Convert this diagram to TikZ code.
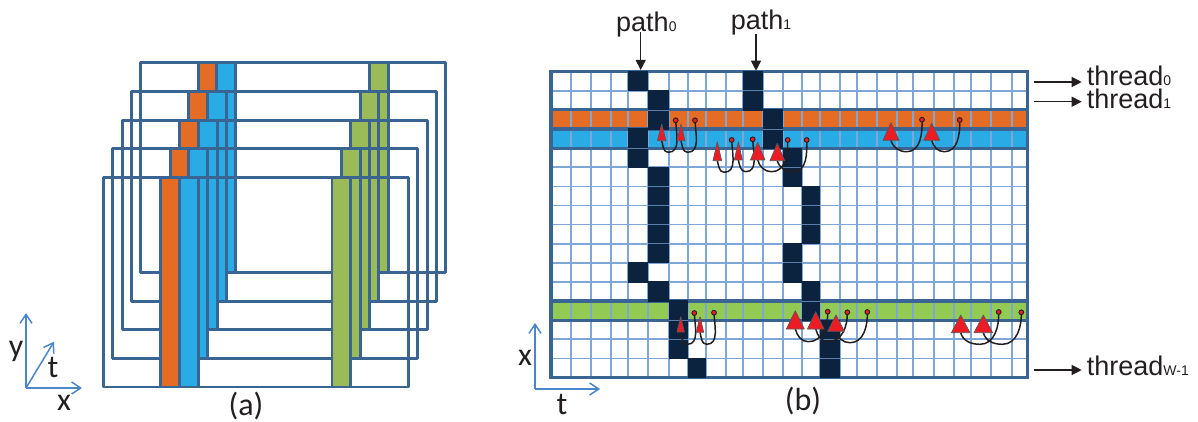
\documentclass[tikz,border=0pt]{standalone}
\usepackage{fontspec}
\setmainfont{Liberation Sans}
\newfontfamily\axisfont{Carlito}
\usetikzlibrary{arrows.meta}
\definecolor{framec}{HTML}{3A6491}
\definecolor{gridc}{HTML}{7EA6D6}
\definecolor{orangec}{HTML}{E46C25}
\definecolor{bluec}{HTML}{29ABE6}
\definecolor{greena}{HTML}{9BBB59}
\definecolor{greenb}{HTML}{92CB53}
\definecolor{darkc}{HTML}{0C233F}
\definecolor{axisc}{HTML}{4A86C8}
\definecolor{redc}{HTML}{ED1C24}
\definecolor{inkc}{HTML}{231F20}
\tikzset{
  x=1pt,y=-1pt,
  layerline/.style={draw=framec,line width=2.9pt,line join=round},
  thickline/.style={draw=framec,line width=3.1pt},
  thinline/.style={draw=gridc,line width=1.7pt},
  axisline/.style={draw=axisc,line width=1.5pt,-{Straight Barb[length=9pt,width=12pt]}},
  blackarrow/.style={draw=inkc,line width=1.2pt,-{Triangle[length=10pt,width=10pt]}},
  label/.style={inner sep=0pt,anchor=base west,text=inkc,font=\fontsize{27}{27}\selectfont},
  axislabel/.style={inner sep=0pt,text=inkc,font=\axisfont\fontsize{32}{32}\selectfont},
  arcline/.style={draw=inkc,line width=1.5pt},
  redtri/.style={fill=redc,draw=inkc!75,line width=0.7pt,line join=round},
  reddot/.style={fill=redc,draw=inkc,line width=0.9pt},
}
\newcommand{\subs}[1]{{\fontsize{14}{14}\selectfont #1}}
\newcommand{\markarc}[8]{%
  \draw[arcline] (#1,#2) to[out=-88,in=0] (#3,#4) to[out=180,in=-75] (#5,#7);
  \fill[redtri] (#5,#6) -- ({#5+#8},#7) -- ({#5-#8},#7) -- cycle;
  \fill[reddot] (#1,#2) circle (2.4pt);
}
\def\colx{{551,570.7,590.7,611,627.7,648.3,668.7,687.7,705.7,725.7,742.7,762.7,782.7,801.7,820,840,856.7,876.7,896.7,913.3,934,954,970.7,990.7,1011.7,1027.7}}
\newcommand{\rowy}[1]{(71.7+19.11*(#1))}
\begin{document}
\begin{tikzpicture}
\useasboundingbox (0,0) rectangle (1198,422);
% ---------- (a) stacked frames
\foreach \i in {4,3,2,1,0}{
  \begin{scope}[shift={(9.38*\i,-28.6*\i)}]
    \draw[layerline] (103.3,177.3) rectangle (408.3,387);
    \filldraw[layerline,fill=orangec] (160.7,177.3) rectangle (179.3,387);
    \filldraw[layerline,fill=bluec] (179.3,177.3) rectangle (198.3,387);
    \filldraw[layerline,fill=greena] (332,177.3) rectangle (350.7,387);
  \end{scope}
}
% axes (a)
\coordinate (ao) at (26,388);
\coordinate (ay) at (26,313);
\coordinate (ax) at (82,388);
\coordinate (at) at (54,341.7);
\draw[axisline] (ao) -- (ay);
\draw[axisline] (ao) -- (ax);
\draw[axisline] (ao) -- (at);
\node[axislabel] (ly) at (16,351) {y};
\node[axislabel] (lt) at (53,367) {t};
\node[axislabel] (lx) at (64,403) {x};
\node[axislabel] (la) at (246,406) {(a)};
% ---------- (b) grid
\fill[white] (551,71.7) rectangle (1027.7,377.5);
\fill[orangec] (551,{\rowy{2}}) rectangle (1027.7,{\rowy{3}});
\fill[bluec] (551,{\rowy{3}}) rectangle (1027.7,{\rowy{4}});
\fill[greenb] (551,{\rowy{12}}) rectangle (1027.7,{\rowy{13}});
\foreach \c in {1,...,24}{
  \pgfmathsetmacro\xa{\colx[\c]}
  \draw[thinline] (\xa,71.7) -- (\xa,377.5);
}
\foreach \r in {1,...,15}{
  \draw[thinline] (551,{\rowy{\r}}) -- (1027.7,{\rowy{\r}});
}
\foreach \r in {2,3,4,12,13}{
  \draw[thickline] (551,{\rowy{\r}}) -- (1027.7,{\rowy{\r}});
}
\draw[thickline] (551,71.7) rectangle (1027.7,377.5);
% dark path cells
\foreach \c/\r in {4/0,5/1,5/2,4/3,4/4,5/5,5/6,5/7,5/8,5/9,4/10,5/11,6/12,6/13,6/14,7/15,
                   10/0,10/1,11/2,11/3,12/4,12/5,13/6,13/7,13/8,12/9,12/10,13/11,13/12,14/13,14/14,14/15}{
  \pgfmathsetmacro\xa{\colx[\c]}
  \pgfmathsetmacro\xb{\colx[\c+1]}
  \fill[darkc] (\xa,{\rowy{\r}-0.6}) rectangle (\xb,{\rowy{\r+1}+0.6});
}
\foreach \c/\r in {5/2,4/4,5/6,5/7,5/8,5/9,6/13,6/14,10/1,11/3,12/5,13/7,13/8,12/10,13/12,14/14,14/15}{
  \pgfmathsetmacro\xa{\colx[\c]}
  \pgfmathsetmacro\xb{\colx[\c+1]}
  \draw[gridc!70!darkc,line width=0.8pt] (\xa,{\rowy{\r}}) -- (\xb,{\rowy{\r}});
}
% arcs with triangles
\markarc{675.7}{120.3}{668.3}{152.3}{661.7}{124}{140.7}{4.3}
\markarc{695}{120.3}{687.7}{152.3}{681}{124}{140.7}{4}
\markarc{731.7}{140}{724.3}{172.3}{717.3}{141.7}{160.7}{4.3}
\markarc{752.7}{139.3}{745.7}{171.7}{738.3}{141.7}{160}{4}
\markarc{787.7}{140}{771.7}{171.7}{757.7}{142.3}{160}{7.3}
\markarc{806.7}{140}{793.3}{171.7}{777.3}{143.3}{160.7}{7.3}
\markarc{922}{119.7}{906.7}{151.7}{891}{122.7}{140.3}{8}
\markarc{959.7}{120}{944.3}{151.7}{931.7}{123.3}{140.3}{8}
\markarc{694.3}{313}{687.3}{344.3}{680.7}{316.7}{332}{3.7}
\markarc{714}{312.7}{706.7}{344.3}{700}{316.7}{332.3}{3.7}
\markarc{827.7}{311.7}{808.3}{341.7}{795.3}{310.7}{329}{9}
\markarc{847.3}{312.3}{828.3}{341.7}{815.7}{311.7}{329}{8.3}
\markarc{867.3}{312}{850}{342.7}{836}{315}{331.3}{8.3}
\markarc{998.7}{312}{980}{344.3}{960.7}{315}{332.7}{9.3}
\markarc{1021.3}{312.3}{1002.3}{344.3}{983.3}{315}{332.7}{9.3}
% axes (b)
\coordinate (bo) at (535,389);
\coordinate (bx) at (535,323);
\coordinate (bt) at (600,389);
\draw[axisline] (bo) -- (bx);
\draw[axisline] (bo) -- (bt);
\node[axislabel] (lbx) at (525,358) {x};
\node[axislabel] (lbt) at (562,404) {t};
\node[axislabel] (lb) at (803,401) {(b)};
% labels
\node[label] (path0) at (616,32) {path\subs{0}};
\node[label] (path1) at (730.7,29.3) {path\subs{1}};
\coordinate (p0s) at (640.7,32);
\coordinate (p0e) at (640.7,70);
\coordinate (p1s) at (756,34);
\coordinate (p1e) at (756,70.7);
\draw[blackarrow] (p0s) -- (p0e);
\draw[blackarrow] (p1s) -- (p1e);
\node[label] (t0) at (1086.7,86) {thread\subs{0}};
\node[label] (t1) at (1086.7,109) {thread\subs{1}};
\node[label] (tw) at (1086.7,375) {thread\subs{W-1}};
\coordinate (t0s) at (1034.3,82);
\coordinate (t1s) at (1034.3,101.7);
\coordinate (tws) at (1034.3,370);
\coordinate (t0e) at (1081.7,82);
\coordinate (t1e) at (1081.7,101.7);
\coordinate (twe) at (1081.7,370);
\draw[blackarrow] (t0s) -- (t0e);
\draw[blackarrow] (t1s) -- (t1e);
\draw[blackarrow] (tws) -- (twe);
\end{tikzpicture}
\end{document}
